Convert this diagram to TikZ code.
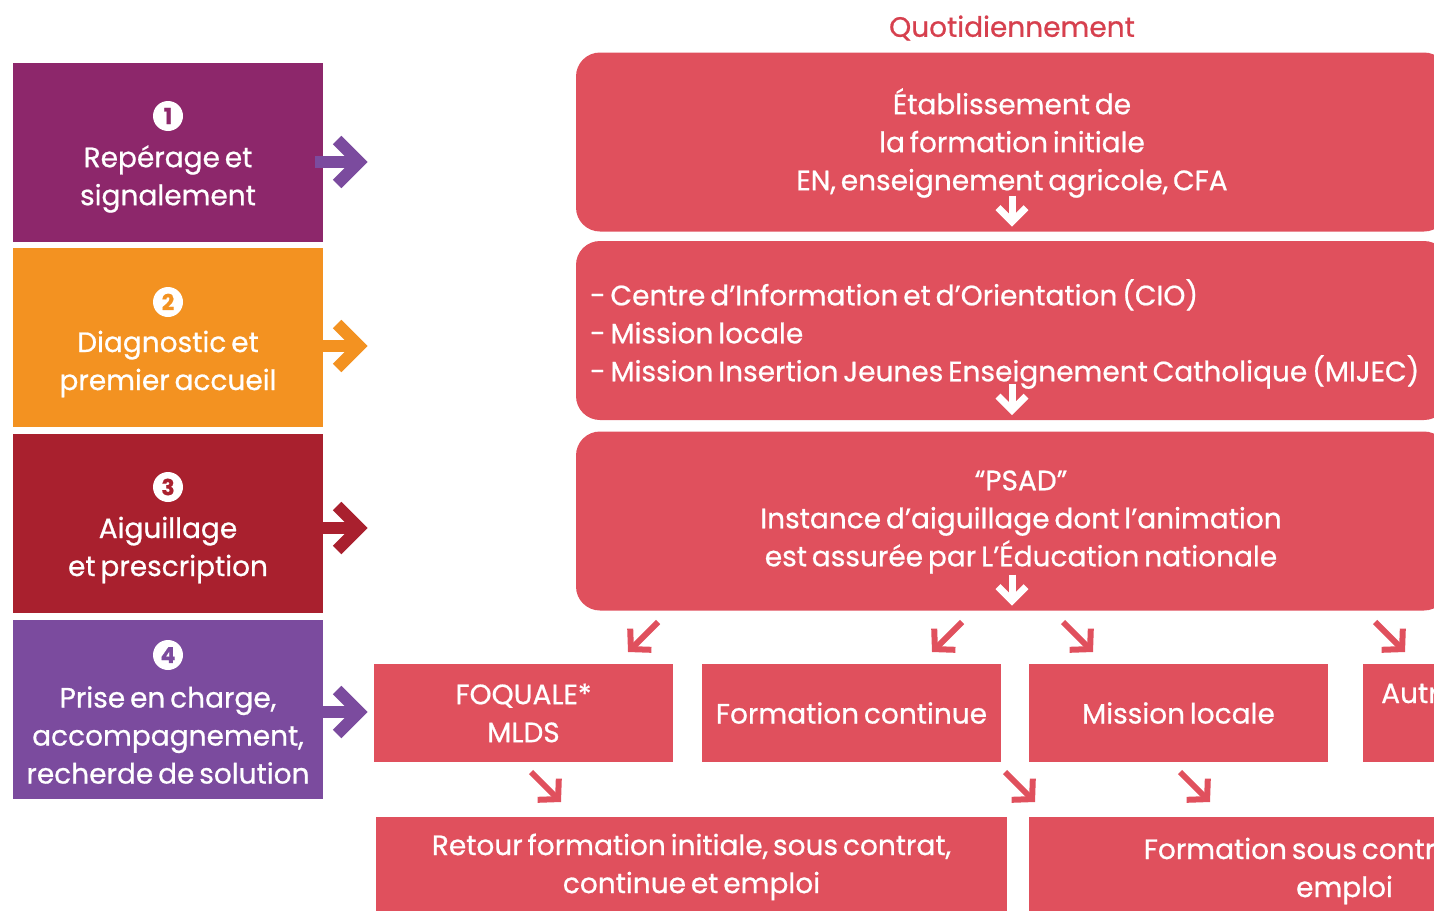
\documentclass[tikz,border=0pt]{standalone}
\usepackage{fontspec}
\setmainfont{Poppins}[FakeBold=0.7, WordSpace=0.65]
\usetikzlibrary{arrows.meta}

\definecolor{stepone}{RGB}{141,39,107}
\definecolor{steptwo}{RGB}{243,146,33}
\definecolor{stepthree}{RGB}{169,32,46}
\definecolor{stepfour}{RGB}{123,75,158}
\definecolor{boxred}{RGB}{224,80,93}
\definecolor{titlered}{RGB}{214,64,78}

\newcommand\bodyfont{\fontsize{28}{38}\selectfont}

\tikzset{
  stepbox/.style={fill=#1, minimum width=310pt, minimum height=179pt, inner sep=0pt},
  steptext/.style={text=white, align=center, font=\bodyfont, inner sep=0pt},
  numdot/.style={circle, fill=white, text=#1, minimum size=30pt, inner sep=0pt,
    font=\fontsize{22}{22}\selectfont\bfseries},
  bigbox/.style={fill=boxred, rounded corners=24pt, minimum width=872pt, minimum height=179pt},
  boxtext/.style={text=white, align=center, font=\bodyfont, inner sep=0pt},
  smallbox/.style={fill=boxred, text=white, minimum width=299pt, minimum height=98pt,
    align=center, inner sep=0pt, font=\bodyfont},
  sidearrow/.style={draw=#1, line width=12pt, line join=miter},
  downarrow/.style={draw=white, line width=7pt, line join=miter},
  diagarrow/.style={draw=boxred, line width=6pt, -{Straight Barb[length=14pt,width=30pt]}},
}

\begin{document}
\begin{tikzpicture}[x=1pt,y=-1pt]
  \useasboundingbox (0,0) rectangle (1434,910);
  \clip (0,0) rectangle (1434,910);

  \node[text=titlered, font=\bodyfont] (titre) at (1012,28) {Quotidiennement};

  % etapes
  \node[stepbox=stepone] (step1) at (168,152) {};
  \node[stepbox=steptwo] (step2) at (168,337.5) {};
  \node[stepbox=stepthree] (step3) at (168,523) {};
  \node[stepbox=stepfour] (step4) at (168,709) {};

  \node[numdot=stepone] (num1) at (168,116) {1};
  \node[numdot=steptwo] (num2) at (168,302) {2};
  \node[numdot=stepthree] (num3) at (168,487) {3};
  \node[numdot=stepfour] (num4) at (168,655) {4};

  \node[steptext] (txt1) at (168,179) {Repérage et\\signalement};
  \node[steptext] (txt2) at (168,364) {Diagnostic et\\premier accueil};
  \node[steptext] (txt3) at (168,550) {Aiguillage\\et prescription};
  \node[steptext] (txt4) at (168,735) {Prise en charge,\\accompagnement,\\recherde de solution};

  \foreach \i/\c/\y in {1/stepfour/162, 2/steptwo/346, 3/stepthree/528, 4/stepfour/712} {
    \draw[sidearrow=\c] (step\i.east |- 0,\y) ++(-8,0) -- ++(40,0);
    \draw[sidearrow=\c] (step\i.east |- 0,\y) ++(14,-22) -- ++(22,22) -- ++(-22,22);
  }

  % acteurs
  \node[bigbox] (etab) at (1012,142) {};
  \node[bigbox] (cio) at (1012,330.5) {};
  \node[bigbox] (psad) at (1012,521) {};

  \node[boxtext] (etabtxt) at (1012,143) {Établissement de\\la formation initiale\\EN, enseignement agricole, CFA};
  \node[boxtext, anchor=west, align=left] (ciotxt) at (590,334) {- Centre d’Information et d’Orientation (CIO)\\- Mission locale\\- Mission Insertion Jeunes Enseignement Catholique (MIJEC)};
  \node[boxtext] (psadtxt) at (1021,522) {“PSAD”\\Instance d’aiguillage dont l’animation\\est assurée par L’Éducation nationale};

  \foreach \b in {etab,cio,psad} {
    \draw[downarrow] ([shift={(0,-36)}]\b.south) -- ([shift={(0,-14)}]\b.south);
    \draw[downarrow] ([shift={(-14,-24)}]\b.south) -- ([shift={(0,-10)}]\b.south) -- ([shift={(14,-24)}]\b.south);
  }

  % solutions
  \node[smallbox] (foquale) at (523.5,713) {FOQUALE*\\MLDS};
  \node[smallbox] (fcont) at (851.5,713) {Formation continue};
  \node[smallbox] (mloc) at (1178.5,713) {Mission locale};
  \node[smallbox] (autres) at (1512,713) {};
  \node[boxtext, anchor=west] (autrestxt) at (1381,696) {Autres partenaires};

  \node[smallbox, minimum width=631pt, minimum height=100pt] (retour) at (691.5,867) {Retour formation initiale, sous contrat,\\continue et emploi};
  \node[smallbox, minimum width=631pt, minimum height=108pt] (fsc) at (1344.5,871) {Formation sous contrat ou en\\emploi};

  \draw[diagarrow] (658,622) -- (628,652);
  \draw[diagarrow] (962,622) -- (932,652);
  \draw[diagarrow] (1063,622) -- (1093,652);
  \draw[diagarrow] (1375,622) -- (1405,652);

  \draw[diagarrow] (531,772) -- (561,802);
  \draw[diagarrow] (1005,772) -- (1035,802);
  \draw[diagarrow] (1180,772) -- (1210,802);

\end{tikzpicture}
\end{document}
